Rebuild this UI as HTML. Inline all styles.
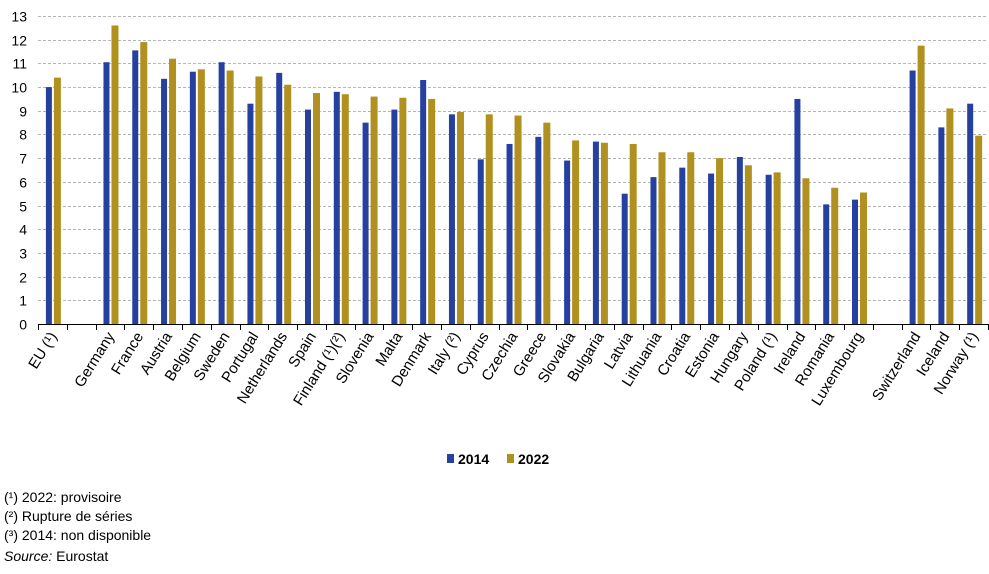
<!DOCTYPE html>
<html><head><meta charset="utf-8"><style>
html,body{margin:0;padding:0;background:#fff;}
svg{display:block;font-family:"Liberation Sans",Arial,sans-serif;}
</style></head><body>
<svg id="s" width="989" height="574" xmlns="http://www.w3.org/2000/svg">
<g id="grid"></g>
<g id="bars"></g>
<g id="labs" font-size="14" fill="#000"></g>
<line x1="38" y1="324.5" x2="988" y2="324.5" stroke="#000" stroke-width="1"/>
<rect x="447" y="454" width="7" height="9" fill="#2640a0"/>
<text x="458" y="464" font-size="14" font-weight="bold">2014</text>
<rect x="507" y="454" width="7" height="9" fill="#b0901e"/>
<text x="518" y="464" font-size="14" font-weight="bold">2022</text>
<text x="4" y="502" font-size="14">(¹) 2022: provisoire</text>
<text x="4" y="521" font-size="14">(²) Rupture de séries</text>
<text x="4" y="540" font-size="14">(³) 2014: non disponible</text>
<text x="4" y="561" font-size="14"><tspan font-style="italic">Source:</tspan> Eurostat</text>
</svg>
<script>
var d=[["EU (¹)",10.0,10.4],null,["Germany",11.05,12.6],["France",11.55,11.9],["Austria",10.35,11.2],["Belgium",10.65,10.75],["Sweden",11.05,10.7],["Portugal",9.3,10.45],["Netherlands",10.6,10.1],["Spain",9.05,9.75],["Finland (¹)(²)",9.8,9.7],["Slovenia",8.5,9.6],["Malta",9.05,9.55],["Denmark",10.3,9.5],["Italy (²)",8.85,8.95],["Cyprus",6.95,8.85],["Czechia",7.6,8.8],["Greece",7.9,8.5],["Slovakia",6.9,7.75],["Bulgaria",7.7,7.65],["Latvia",5.5,7.6],["Lithuania",6.2,7.25],["Croatia",6.6,7.25],["Estonia",6.35,7.0],["Hungary",7.05,6.7],["Poland (¹)",6.3,6.4],["Ireland",9.5,6.15],["Romania",5.05,5.75],["Luxembourg",5.25,5.55],null,["Switzerland",10.7,11.75],["Iceland",8.3,9.1],["Norway (¹)",9.3,7.95]];
var NS="http://www.w3.org/2000/svg";
function el(t,a,p,txt){var e=document.createElementNS(NS,t);for(var k in a)e.setAttribute(k,a[k]);if(txt!=null)e.textContent=txt;document.getElementById(p).appendChild(e);return e;}
var y0=324,u=23.69,w=28.79;
for(var v=0;v<=13;v++){var y=Math.round(y0-v*u)+0.5;
 if(v>0)el("line",{x1:38,x2:988,y1:y,y2:y,stroke:"#b4b4b4","stroke-dasharray":"3,2","stroke-width":1},"grid");
 el("text",{x:27,y:y+5,"text-anchor":"end","font-size":14},"labs",String(v));}
for(var i=0;i<=33;i++){var x=Math.round(38+i*w)+0.5;el("line",{x1:x,x2:x,y1:324,y2:330,stroke:"#000"},"grid");}
d.forEach(function(r,i){if(!r)return;var c=38+w*(i+0.5);
 var h1=r[1]*u,h2=r[2]*u;
 el("rect",{x:c-6.5,y:y0-h1,width:6,height:h1,fill:"#2640a0"},"bars");
 el("rect",{x:c+1.5,y:y0-h2,width:7,height:h2,fill:"#b0901e"},"bars");
 el("text",{x:0,y:0,"text-anchor":"end","font-size":15,transform:"translate("+(c+5)+",336) rotate(-58)"},"labs",r[0]);
});
</script>
</body></html>
